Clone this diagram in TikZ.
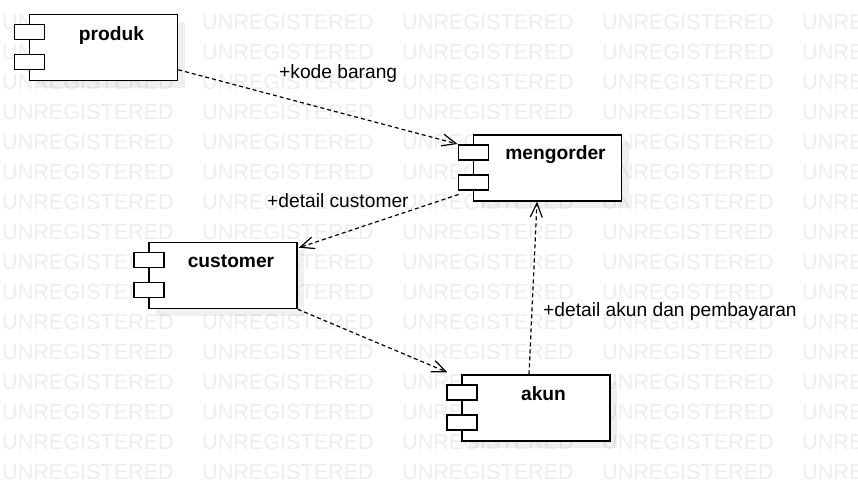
\documentclass[tikz,border=0pt]{standalone}
\usepackage{fontspec}
\setmainfont{Liberation Sans}
\usetikzlibrary{arrows.meta,calc}
\definecolor{wm}{RGB}{238,238,238}
\begin{document}
\begin{tikzpicture}[x=1pt,y=-1pt,
  wmtext/.style={text=wm, anchor=base west, inner sep=0pt, font=\fontsize{21.6}{26}\selectfont},
  compbox/.style={draw=black, line width=1.5pt, fill=white, minimum width=148pt, minimum height=66pt, inner sep=0pt},
  port/.style={draw=black, line width=1.5pt, fill=white, minimum width=30pt, minimum height=15pt, inner sep=0pt},
  shadowbox/.style={fill=black, fill opacity=0.06, minimum width=148pt, minimum height=66pt, inner sep=0pt},
  comptitle/.style={anchor=base, inner sep=0pt, font=\bfseries\fontsize{19.2}{23}\selectfont},
  deplabel/.style={anchor=base west, inner sep=0pt, font=\fontsize{19.2}{23}\selectfont},
  dep/.style={draw=black, line width=1.2pt, dash pattern=on 4pt off 3pt, -{Straight Barb[length=14pt,width=12pt]}}
]
\useasboundingbox (0,0) rectangle (858,501);
\fill[white] (0,0) rectangle (858,501);
\foreach \k in {0,...,15}{
  \foreach \j in {0,...,4}{
    \node[wmtext] (wm-\k-\j) at ({2+200*\j},{29+30*\k}) {UNREGISTERED};
  }
}
% shadows
\node[shadowbox] (produk-s) at (110.5,54.5) {};
\node[shadowbox] (mengorder-s) at (554.5,175) {};
\node[shadowbox] (customer-s) at (230,282.5) {};
\node[shadowbox] (akun-s) at (543,415) {};
% components
\node[compbox] (produk) at (103.5,47.5) {};
\node[port] (produk-p1) at ($(produk.north west)+(0.5,18)$) {};
\node[port] (produk-p2) at ($(produk.north west)+(0.5,48)$) {};
\node[comptitle] (produk-t) at (111.5,40) {produk};

\node[compbox] (mengorder) at (547.5,168) {};
\node[port] (mengorder-p1) at ($(mengorder.north west)+(0.5,18)$) {};
\node[port] (mengorder-p2) at ($(mengorder.north west)+(0.5,48)$) {};
\node[comptitle] (mengorder-t) at (555.5,159) {mengorder};

\node[compbox] (customer) at (223,275.5) {};
\node[port] (customer-p1) at ($(customer.north west)+(0.5,18)$) {};
\node[port] (customer-p2) at ($(customer.north west)+(0.5,48)$) {};
\node[comptitle] (customer-t) at (231,267) {customer};

\node[compbox] (akun) at (536,408) {};
\node[port] (akun-p1) at ($(akun.north west)+(0.5,18)$) {};
\node[port] (akun-p2) at ($(akun.north west)+(0.5,48)$) {};
\node[comptitle] (akun-t) at (543.5,400) {akun};
% dependencies
\draw[dep] ($(produk.north east)+(0,56)$) -- (mengorder-p1.north west);
\draw[dep] ($(mengorder-p2.south west)+(1,4)$) -- ($(customer.north east)+(1,6)$);
\draw[dep] (customer.south east) -- ($(akun.north west)+(-14,-2)$);
\draw[dep] ($(akun.north)+(-7,0)$) -- ($(mengorder.south)+(-10.5,0)$);
% labels
\node[deplabel] (l1) at (279,78) {+kode barang};
\node[deplabel] (l2) at (267,207) {+detail customer};
\node[deplabel] (l3) at (543,316) {+detail akun dan pembayaran};
\end{tikzpicture}
\end{document}
